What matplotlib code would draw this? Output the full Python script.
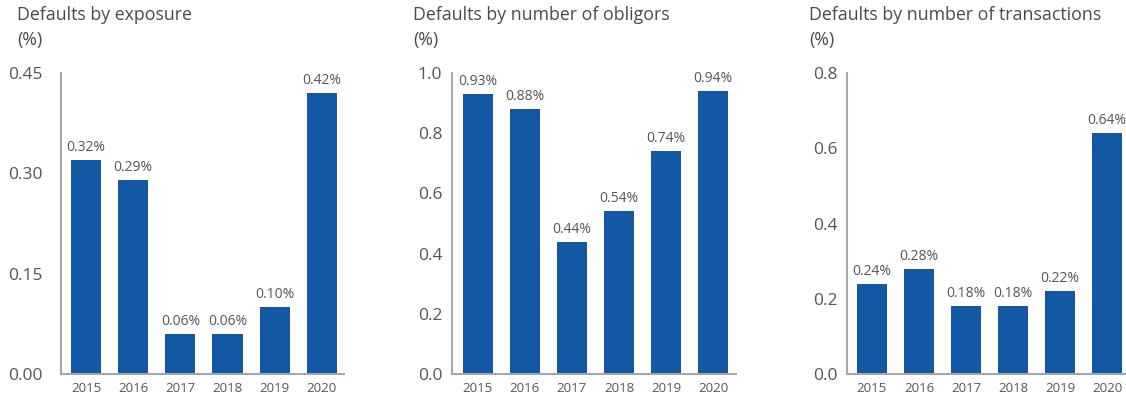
import matplotlib
matplotlib.use("Agg")
import matplotlib.pyplot as plt

plt.rcParams['font.family'] = ['Open Sans', 'DejaVu Sans']

years = ["2015", "2016", "2017", "2018", "2019", "2020"]

exposure = [0.32, 0.29, 0.06, 0.06, 0.10, 0.42]
obligors = [0.93, 0.88, 0.44, 0.54, 0.74, 0.94]
transactions = [0.24, 0.28, 0.18, 0.18, 0.22, 0.64]

titles = ["Defaults by exposure", "Defaults by number of obligors",
          "Defaults by number of transactions"]
yticks = [[0.00, 0.15, 0.30, 0.45],
          [0.0, 0.2, 0.4, 0.6, 0.8, 1.0],
          [0.0, 0.2, 0.4, 0.6, 0.8]]
ytick_fmt = ["{:.2f}", "{:.1f}", "{:.1f}"]

BLUE = "#1258a5"
TEXT = "#555555"
TITLE = "#4a4a4a"
AXIS = "#a6a6a6"

W, H = 1126, 398
fig = plt.figure(figsize=(W / 100, H / 100), dpi=100)

# pixel boxes: axis left, axis right, title x, tick pad (pt), xlim
panels = [
    (61, 344, 17, 13.5, (-0.53, 5.47)),
    (452, 736, 413, 7, (-0.55, 5.49)),
    (847, 1126, 809, 6.5, (-0.53, 5.40)),
]
top, bottom = 73, 374

for i, (vals, (x0, x1, tx, pad, xl)) in enumerate(zip([exposure, obligors, transactions], panels)):
    ax = fig.add_axes([x0 / W, (H - bottom) / H, (x1 - x0) / W, (bottom - top) / H])
    ax.bar(range(len(years)), vals, width=0.64, color=BLUE)
    for k, v in enumerate(vals):
        ax.annotate(f"{v:.2f}%", (k, v), xytext=(0, 5), textcoords="offset pixels",
                    ha="center", va="bottom", fontsize=10, color=TEXT)
    ax.set_xlim(*xl)
    ax.set_ylim(yticks[i][0], yticks[i][-1])
    ax.set_yticks(yticks[i])
    ax.set_yticklabels([ytick_fmt[i].format(t) for t in yticks[i]])
    ax.set_xticks(range(len(years)))
    ax.set_xticklabels(years)
    ax.tick_params(axis="y", length=0, pad=pad, labelsize=12.5, labelcolor=TEXT)
    ax.tick_params(axis="x", length=0, pad=6, labelsize=9.5, labelcolor=TEXT)
    for s in ["top", "right"]:
        ax.spines[s].set_visible(False)
    for s in ["left", "bottom"]:
        ax.spines[s].set_color(AXIS)
        ax.spines[s].set_linewidth(1.5)
    fig.text(tx / W, 1 - 15 / H, titles[i], ha="left", va="center",
             fontsize=12.8, color=TITLE)
    fig.text(tx / W, 1 - 40 / H, "(%)", ha="left", va="center",
             fontsize=12.8, color=TITLE)

fig.savefig("out.png", dpi=100)
